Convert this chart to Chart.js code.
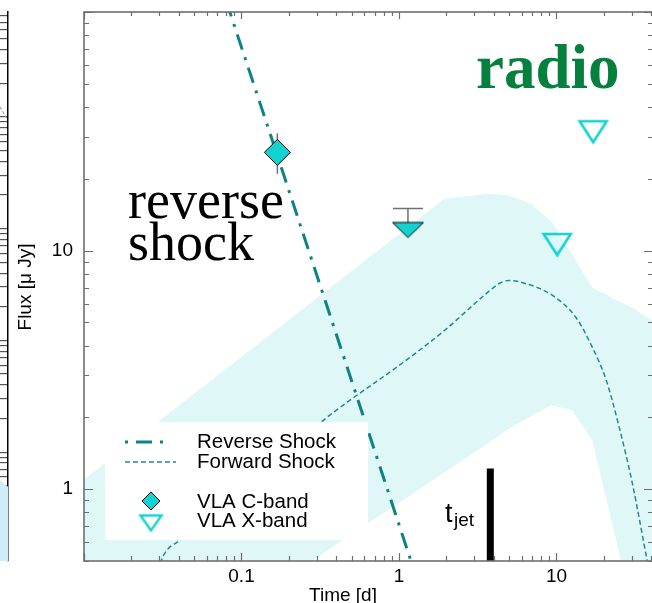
<!DOCTYPE html>
<html>
<head>
<meta charset="utf-8">
<script src="https://cdn.jsdelivr.net/npm/chart.js@4.4.0/dist/chart.umd.min.js"></script>
<style>
  html, body { margin: 0; padding: 0; background: #fff; overflow: hidden; }
  #wrap { position: relative; width: 660px; height: 603px; }
  #side, #main { position: absolute; left: 0; top: 0; }
</style>
</head>
<body>
<div id="wrap">
  <canvas id="side" width="10" height="603"></canvas>
  <canvas id="main" width="660" height="603"></canvas>
</div>
<script>
// ---------- model band (upper / lower edge) ----------
const bandUpperT = [0.0095, 1.94, 3.74, 5.0, 6.9, 9.4, 16.9, 24.3, 30.3, 42];
const bandUpperF = [1.07, 16.5, 17.3, 17.0, 15.7, 13.1, 7.0, 6.18, 5.78, 5.0];
const bandLowerT = [0.0095, 0.28, 3.9, 5.15, 9.25, 12.6, 16.9, 25.7, 42];
const bandLowerF = [0.11, 0.5, 1.6, 1.82, 2.25, 2.14, 1.6, 0.5, 0.1];

// ---------- model curves ----------
const fwdT = [0.029, 0.0309, 0.0337, 0.0391, 0.377, 1.0, 1.88, 3.58, 4.33, 5.0, 5.8, 9.4, 13.3, 16.9, 20.7, 25, 30.3, 37.7, 40];
const fwdF = [0.42, 0.5, 0.556, 0.60, 2.08, 3.3, 4.54, 6.6, 7.28, 7.5, 7.4, 6.5, 5.24, 3.93, 2.86, 1.82, 1.06, 0.5, 0.41];
const revT = [0.08, 0.17, 0.5, 1.3];
const revF = [111, 24.7, 2.85, 0.42];

// ---------- jet break ----------
const jetT = [3.8, 3.8];
const jetF = [1.22, 0.3];

// ---------- observations ----------
const cBandT  = [0.169];
const cBandF  = [25.8];
const cBandLo = [21];
const cBandHi = [31];
const cLimT   = [1.14];
const cLimF   = [12.2];
const cLimCap = [15];
const xBandT  = [10.1, 17.1];
const xBandF  = [10.6, 31.5];

// ---------- axes ----------
const xLabelTicks = [0.1, 1, 10];
const yLabelTicks = [1, 10];

// ---------- neighbouring panel edge ----------
const sideT      = [0, 1];
const sideBandF  = [0.56, 0.49];
const sideCurveT = [0, 0.9];
const sideCurveF = [1230, 955];

const TEAL_DARK = '#0f8383';
const TEAL      = '#1f8b8b';
const CYAN      = '#13d2d2';
const BAND      = '#e0f7f7';
const AXIS      = '#6e6e6e';

Chart.defaults.font.family = '"Liberation Sans", Arial, Helvetica, sans-serif';
Chart.defaults.color = '#000';

const pts = (ts, fs) => ts.map((t, i) => ({ x: t, y: fs[i] }));

function triangleCanvas(w, h, fill, stroke, lw) {
  const pad = Math.ceil(lw) + 1;
  const c = document.createElement('canvas');
  c.width = w + pad * 2;
  c.height = h + pad * 2;
  const g = c.getContext('2d');
  g.beginPath();
  g.moveTo(pad, pad);
  g.lineTo(pad + w, pad);
  g.lineTo(pad + w / 2, pad + h);
  g.closePath();
  if (fill) { g.fillStyle = fill; g.fill(); }
  g.lineWidth = lw;
  g.strokeStyle = stroke;
  g.lineJoin = 'miter';
  g.stroke();
  return c;
}

const limTri    = triangleCanvas(31, 15, CYAN, '#000', 1);
const openTri   = triangleCanvas(27, 21, null, CYAN, 2.6);
const legendTri = triangleCanvas(21, 15, null, CYAN, 2.4);

function logMarks(min, max) {
  const out = [];
  for (let e = Math.floor(Math.log10(min)); e <= Math.ceil(Math.log10(max)); e++) {
    for (let m = 1; m <= 9; m++) {
      const v = m * Math.pow(10, e);
      if (v >= min * 0.9999 && v <= max * 1.0001) out.push({ v, major: m === 1 });
    }
  }
  return out;
}

const isOneOf = (v, list) => list.some(t => Math.abs(v - t) < t * 1e-6);

// keep the plot box exactly where the layout padding puts it
const noScalePadding = s => {
  s.paddingTop = 0; s.paddingBottom = 0; s.paddingLeft = 0; s.paddingRight = 0;
};

// error bars and limit caps, under the markers
const errorBars = {
  id: 'errorBars',
  beforeDatasetDraw(chart, args) {
    const { ctx, scales: { x, y } } = chart;
    const label = chart.data.datasets[args.index].label;
    ctx.save();
    ctx.strokeStyle = '#707070';
    ctx.lineWidth = 1.5;
    if (label === 'VLA C-band') {
      cBandT.forEach((t, i) => {
        const px = x.getPixelForValue(t);
        ctx.beginPath();
        ctx.moveTo(px, y.getPixelForValue(cBandHi[i]));
        ctx.lineTo(px, y.getPixelForValue(cBandLo[i]));
        ctx.stroke();
      });
    }
    if (label === 'C-band limit') {
      cLimT.forEach((t, i) => {
        const px = x.getPixelForValue(t);
        const top = y.getPixelForValue(cLimCap[i]);
        ctx.beginPath();
        ctx.moveTo(px, top);
        ctx.lineTo(px, y.getPixelForValue(cLimF[i]));
        ctx.moveTo(px - 15, top);
        ctx.lineTo(px + 15, top);
        ctx.stroke();
      });
    }
    ctx.restore();
  }
};

// box, inward ticks on all four sides
const frame = {
  id: 'frame',
  afterDatasetsDraw(chart) {
    const { ctx, chartArea: a, scales: { x, y } } = chart;
    ctx.save();
    ctx.strokeStyle = AXIS;
    ctx.lineWidth = 1.2;
    ctx.beginPath();
    logMarks(x.min, x.max).forEach(t => {
      const px = Math.round(x.getPixelForValue(t.v)) + 0.5;
      const len = t.major ? 8 : 5;
      ctx.moveTo(px, a.bottom); ctx.lineTo(px, a.bottom - len);
      ctx.moveTo(px, a.top);    ctx.lineTo(px, a.top + len - 1);
    });
    logMarks(y.min, y.max).forEach(t => {
      const py = Math.round(y.getPixelForValue(t.v)) + 0.5;
      const len = t.major ? 9 : 5;
      ctx.moveTo(a.left, py);  ctx.lineTo(a.left + len, py);
      ctx.moveTo(a.right, py); ctx.lineTo(a.right - len, py);
    });
    ctx.stroke();
    ctx.lineWidth = 1.6;
    ctx.strokeRect(a.left, a.top, a.right - a.left, a.bottom - a.top);
    ctx.restore();
  }
};

// legend box drawn over the band
const boxLegend = {
  id: 'boxLegend',
  afterDatasetsDraw(chart) {
    const ctx = chart.ctx;
    const ds = chart.data.datasets;
    const rev = ds.find(d => d.label === 'Reverse Shock');
    const fwd = ds.find(d => d.label === 'Forward Shock');
    ctx.save();
    ctx.fillStyle = '#fff';
    ctx.fillRect(105, 422, 263, 118);

    ctx.lineCap = 'butt';
    ctx.strokeStyle = rev.borderColor;
    ctx.lineWidth = rev.borderWidth;
    ctx.setLineDash(rev.borderDash);
    ctx.lineDashOffset = rev.borderDash[0] + rev.borderDash[1];
    ctx.beginPath(); ctx.moveTo(125, 442); ctx.lineTo(166, 442); ctx.stroke();

    ctx.strokeStyle = fwd.borderColor;
    ctx.lineWidth = fwd.borderWidth;
    ctx.setLineDash(fwd.borderDash);
    ctx.lineDashOffset = 0;
    ctx.beginPath(); ctx.moveTo(125, 462); ctx.lineTo(176, 462); ctx.stroke();
    ctx.setLineDash([]);

    // diamond
    ctx.beginPath();
    ctx.moveTo(151, 492); ctx.lineTo(160, 501); ctx.lineTo(151, 510); ctx.lineTo(142, 501);
    ctx.closePath();
    ctx.fillStyle = CYAN; ctx.fill();
    ctx.lineWidth = 1; ctx.strokeStyle = '#000'; ctx.stroke();
    ctx.drawImage(legendTri, 151 - legendTri.width / 2, 523 - legendTri.height / 2);

    ctx.fillStyle = '#000';
    ctx.font = '20.5px "Liberation Sans", Arial, sans-serif';
    ctx.textBaseline = 'alphabetic';
    ctx.fillText('Reverse Shock', 197, 448);
    ctx.fillText('Forward Shock', 197, 468);
    ctx.fillText('VLA C-band', 197, 508);
    ctx.fillText('VLA X-band', 197, 527);
    ctx.restore();
  }
};

// annotations and axis titles
const annotations = {
  id: 'annotations',
  afterDraw(chart) {
    const ctx = chart.ctx;
    ctx.save();
    ctx.fillStyle = '#000';
    ctx.textBaseline = 'alphabetic';
    ctx.font = '54px "Liberation Serif", "Times New Roman", serif';
    ctx.fillText('reverse', 128, 218);
    ctx.fillText('shock', 128, 260);

    ctx.fillStyle = '#06803f';
    ctx.font = 'bold 63px "Liberation Serif", "Times New Roman", serif';
    ctx.fillText('radio', 476, 88);

    ctx.fillStyle = '#000';
    ctx.font = '27px "Liberation Sans", Arial, sans-serif';
    ctx.fillText('t', 445, 522);
    ctx.font = '19px "Liberation Sans", Arial, sans-serif';
    ctx.fillText('jet', 454, 526);

    ctx.font = '19px "Liberation Sans", Arial, sans-serif';
    ctx.textAlign = 'center';
    ctx.fillText('Time [d]', 343, 601);
    ctx.translate(31, 287);
    ctx.rotate(-Math.PI / 2);
    ctx.fillText('Flux [\u03bc Jy]', 0, 0);
    ctx.restore();
  }
};

new Chart(document.getElementById('main'), {
  type: 'line',
  data: {
    datasets: [
      {
        label: 'band',
        data: pts(bandUpperT.concat(bandLowerT.slice().reverse()),
                  bandUpperF.concat(bandLowerF.slice().reverse())),
        fill: 'shape',
        backgroundColor: BAND,
        borderWidth: 0,
        pointRadius: 0,
        tension: 0,
        order: 10
      },
      {
        label: 'Forward Shock',
        data: pts(fwdT, fwdF),
        borderColor: TEAL,
        borderWidth: 1.5,
        borderDash: [5, 3],
        pointRadius: 0,
        cubicInterpolationMode: 'monotone',
        fill: false,
        order: 9
      },
      {
        label: 'Reverse Shock',
        data: pts(revT, revF),
        borderColor: TEAL_DARK,
        borderWidth: 3,
        borderDash: [16, 8, 3, 8],
        borderCapStyle: 'butt',
        pointRadius: 0,
        fill: false,
        order: 8
      },
      {
        label: 'tjet',
        data: pts(jetT, jetF),
        borderColor: '#000',
        borderWidth: 7,
        borderCapStyle: 'butt',
        pointRadius: 0,
        fill: false,
        order: 7
      },
      {
        label: 'VLA C-band',
        data: pts(cBandT, cBandF),
        showLine: false,
        pointStyle: 'rectRot',
        pointRadius: 13,
        backgroundColor: CYAN,
        borderColor: '#000',
        borderWidth: 1,
        order: 2
      },
      {
        label: 'C-band limit',
        data: pts(cLimT, cLimF),
        showLine: false,
        pointStyle: limTri,
        pointRadius: 10,
        order: 2
      },
      {
        label: 'VLA X-band',
        data: pts(xBandT, xBandF),
        showLine: false,
        pointStyle: openTri,
        pointRadius: 10,
        order: 2
      }
    ]
  },
  options: {
    responsive: false,
    animation: false,
    events: [],
    layout: { autoPadding: false, padding: { left: 0, right: 7, top: 12, bottom: 0 } },
    plugins: { legend: { display: false }, tooltip: { enabled: false } },
    scales: {
      x: {
        type: 'logarithmic',
        min: 0.01,
        max: 41,
        grid: { display: false, drawTicks: false },
        border: { display: false },
        ticks: {
          autoSkip: false, maxRotation: 0, padding: 4,
          font: { size: 19 },
          callback: v => isOneOf(v, xLabelTicks) ? String(v) : null
        },
        afterFit: s => { s.height = 42; noScalePadding(s); }
      },
      y: {
        type: 'logarithmic',
        min: 0.5,
        max: 100,
        grid: { display: false, drawTicks: false },
        border: { display: false },
        ticks: {
          autoSkip: false, padding: 11,
          font: { size: 19 },
          callback: v => isOneOf(v, yLabelTicks) ? String(v) : null
        },
        afterFit: s => { s.width = 84; noScalePadding(s); }
      }
    }
  },
  plugins: [errorBars, boxLegend, frame, annotations]
});

// right edge of the neighbouring panel on the left
new Chart(document.getElementById('side'), {
  type: 'line',
  data: {
    datasets: [
      {
        data: pts(sideCurveT, sideCurveF),
        borderColor: '#a0a0a0', borderWidth: 1.2, borderDash: [3, 2],
        pointRadius: 0, fill: false
      },
      {
        data: pts(sideT, sideBandF),
        fill: 'start', backgroundColor: '#d0ecf9',
        borderWidth: 0, pointRadius: 0
      }
    ]
  },
  options: {
    responsive: false,
    animation: false,
    events: [],
    layout: { autoPadding: false, padding: { left: 0, right: 2, top: 12, bottom: 42 } },
    plugins: { legend: { display: false }, tooltip: { enabled: false } },
    scales: {
      x: { type: 'linear', min: 0, max: 1, display: false },
      y: {
        type: 'logarithmic', position: 'right', min: 0.106, max: 8700,
        ticks: { display: false, padding: 0 },
        grid: {
          drawTicks: false, lineWidth: 1.2,
          color: c => {
            const v = c.tick ? c.tick.value : 0;
            const m = v / Math.pow(10, Math.floor(Math.log10(v) + 1e-9));
            return Math.abs(m - Math.round(m)) < 1e-6 ? '#555' : 'rgba(0,0,0,0)';
          }
        },
        border: { display: true, color: '#000', width: 1.5 },
        afterFit: s => { s.width = 0; noScalePadding(s); }
      }
    }
  }
});
</script>
</body>
</html>
